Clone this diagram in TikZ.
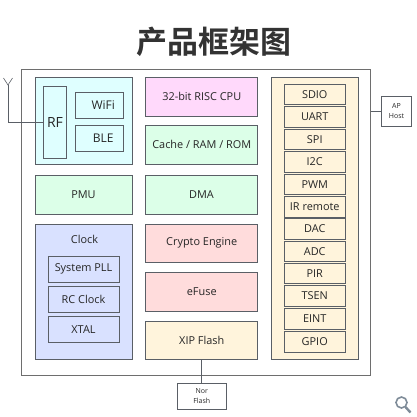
\documentclass[tikz,border=0pt]{standalone}
\usepackage{fontspec}
\setmainfont{Open Sans}
\newfontfamily\cjk{Noto Sans CJK SC}[BoldFont={Noto Sans CJK SC Bold}]
\definecolor{framegray}{HTML}{6E6E6E}
\definecolor{linegray}{HTML}{5A5F66}
\definecolor{rfcyan}{HTML}{DFFFFF}
\definecolor{cpupink}{HTML}{FFD9FB}
\definecolor{memgreen}{HTML}{DCFFE8}
\definecolor{clockblue}{HTML}{D9E1FF}
\definecolor{secred}{HTML}{FFDCDC}
\definecolor{iocream}{HTML}{FFF4DC}
\definecolor{iconblue}{HTML}{7F8C99}
\tikzset{
    block/.style={draw=linegray, line width=0.8pt, inner sep=0pt, font=\fontsize{10.9}{12}\selectfont, text=black!85},
    wideblock/.style={block, minimum width=112pt, minimum height=38.5pt},
    leftblock/.style={block, minimum width=97pt, minimum height=39pt},
    ioblock/.style={block, fill=iocream, minimum width=61pt, minimum height=20.5pt},
    clockblock/.style={block, fill=clockblue, minimum width=71pt, minimum height=25.5pt},
    rfblock/.style={block, fill=rfcyan, minimum width=47.5pt, minimum height=26pt, font=\fontsize{12}{14}\selectfont},
    hostblock/.style={block, fill=white, line width=0.7pt, align=center, font=\fontsize{7}{10}\selectfont},
}
\begin{document}
\begin{tikzpicture}[x=1pt, y=-1pt]
    \useasboundingbox (0,0) rectangle (417,416);
    \node[font=\cjk\bfseries\fontsize{31}{32}\selectfont, text=black!80] (title) at (213.5,42) {产品框架图};
    % Marco exterior
    \node[draw=framegray, line width=1pt, minimum width=348.5pt, minimum height=306pt, inner sep=0pt] (chip) at (196,222) {};
    % Bloque RF
    \node[block, fill=rfcyan, minimum width=97.5pt, minimum height=87pt] (rfzone) at (83.75,121) {};
    \node[block, fill=rfcyan, minimum width=23pt, minimum height=72pt, font=\fontsize{14}{16}\selectfont] (rf) at (55,122) {RF};
    \node[rfblock] (wifi) at (99.25,105.5) {\hspace{8pt}WiFi};
    \node[rfblock] (ble) at (99.25,138.5) {\hspace{8pt}BLE};
    % Columna central
    \node[wideblock, fill=cpupink] (cpu) at (201.75,96.75) {32-bit RISC CPU};
    \node[wideblock, fill=memgreen] (mem) at (201.75,144.75) {Cache / RAM / ROM};
    \node[leftblock, fill=memgreen] (pmu) at (83.5,195) {PMU};
    \node[wideblock, fill=memgreen] (dma) at (201.5,195) {DMA};
    \node[wideblock, fill=secred] (crypto) at (201.75,243.25) {Crypto Engine};
    \node[wideblock, fill=secred] (efuse) at (201.75,291.75) {eFuse};
    \node[wideblock, fill=iocream] (xip) at (201.75,340.25) {XIP Flash};
    % Bloque de reloj
    \node[block, fill=clockblue, minimum width=97pt, minimum height=135pt] (clockzone) at (83.5,291.5) {};
    \node[font=\fontsize{10.9}{12}\selectfont, text=black!85] (clock) at (84.5,239) {Clock};
    \node[clockblock] (pll) at (83.5,269.25) {System PLL};
    \node[clockblock] (rc) at (83.5,299.25) {RC Clock};
    \node[clockblock] (xtal) at (83.5,329.25) {XTAL};
    % Periféricos
    \node[block, fill=iocream, minimum width=87pt, minimum height=281.5pt] (iozone) at (314.5,218.25) {};
    \foreach \name/\ypos/\txt in {sdio/94.5/SDIO, uart/116.75/UART, spi/139.5/SPI, iic/161.75/I2C,
        pwm/184.5/PWM, ir/206.75/IR remote, dac/228.75/DAC, adc/251.25/ADC,
        pir/273.5/PIR, tsen/296/TSEN, eint/319/EINT, gpio/342/GPIO}
        \node[ioblock] (\name) at (314.75,\ypos) {\txt};
    % Bloques externos
    \node[hostblock, minimum width=30pt, minimum height=30pt] (host) at (396.5,111) {AP\\Host};
    \node[hostblock, minimum width=48.5pt, minimum height=26pt] (nor) at (201.75,396) {Nor\\Flash};
    \draw[linegray, line width=0.7pt] (chip.east |- host.west) -- (host.west);
    \draw[linegray, line width=0.7pt] (xip.south) -- (nor.north);
    % Antena
    \coordinate (antbase) at (8,85);
    \coordinate (antleft) at (3.5,78);
    \coordinate (antright) at (12.5,78);
    \coordinate (antelbow) at (8,122);
    \draw[linegray, line width=0.7pt] (rf.west) -- (antelbow) -- (antbase);
    \draw[linegray, line width=0.6pt] (antleft) -- (antbase) -- (antright);
    % Lupa
    \draw[iconblue, line width=1.6pt] (401.5,402.5) circle (5.5pt);
    \draw[iconblue, line width=2.4pt] (405.5,407) -- (410.5,412.5);
\end{tikzpicture}
\end{document}
